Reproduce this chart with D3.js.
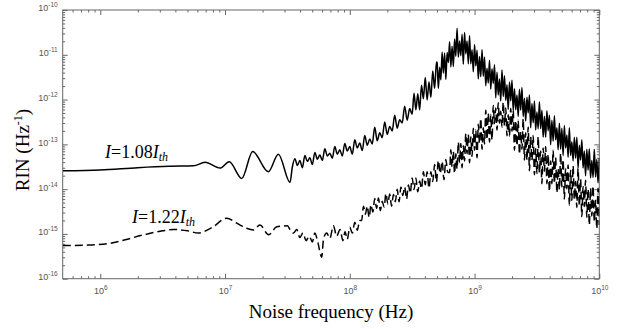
<!DOCTYPE html>
<html><head><meta charset="utf-8">
<script src="https://cdn.jsdelivr.net/npm/d3@7"></script>
<style>body{margin:0;background:#fff}</style>
</head><body><svg id="c" width="621" height="329"></svg>
<script>
// ---- data (log10 of frequency in Hz, log10 of RIN in 1/Hz) ----
const xDecades = [6, 7, 8, 9, 10];
const yDecades = [-16, -15, -14, -13, -12, -11, -10];
const xDomain = [5e5, 1e10];
const yDomain = [1e-16, 1e-10];
const xTitle = "Noise frequency (Hz)";
const yTitleMain = "RIN (Hz";
const yTitleSup = "-1";
const label108 = ["I", "=1.08", "I", "th"];
const label122 = ["I", "=1.22", "I", "th"];

const rin108 = [
[5.70,-13.59],[6.00,-13.57],[6.30,-13.52],[6.55,-13.49],[6.748,-13.48],[6.84,-13.40],[6.96,-13.53],[7.034,-13.39],[7.134,-13.76],[7.222,-13.16],[7.347,-13.61],[7.428,-13.22],[7.521,-13.85],
[7.54,-13.50],[7.56,-13.32],[7.58,-13.47],[7.60,-13.36],[7.62,-13.52],[7.64,-13.25],[7.66,-13.38],[7.68,-13.30],[7.70,-13.45],[7.72,-13.18],
[7.74,-13.33],[7.76,-13.24],[7.78,-13.36],[7.80,-13.10],[7.82,-13.26],[7.84,-13.20],[7.86,-13.31],[7.88,-13.05],[7.90,-13.22],[7.92,-13.12],
[7.94,-13.26],[7.96,-12.98],[7.98,-13.15],[8.00,-13.05],[8.02,-13.22],[8.04,-12.90],[8.06,-13.08],[8.08,-12.97],[8.10,-13.14],[8.12,-12.80],
[8.14,-13.02],[8.16,-12.88],[8.18,-12.99],[8.20,-12.62],[8.22,-12.92],[8.24,-12.74],[8.26,-12.85],[8.28,-12.50],[8.30,-12.78],[8.32,-12.60],
[8.34,-12.70],[8.36,-12.35],[8.38,-12.64],[8.40,-12.45],[8.42,-12.52],[8.44,-12.15],[8.46,-12.46],[8.48,-12.20],[8.50,-12.33],
[8.515,-11.86],[8.530,-12.23],[8.545,-11.87],[8.560,-12.23],[8.575,-11.68],[8.590,-11.98],[8.605,-11.51],[8.620,-12.01],[8.635,-11.61],[8.650,-11.95],
[8.665,-11.36],[8.680,-11.75],[8.695,-11.16],
[8.70,-11.18],[8.71,-11.75],[8.72,-11.28],[8.73,-11.56],[8.74,-10.94],[8.75,-11.41],[8.76,-10.96],[8.77,-11.55],[8.78,-10.95],[8.79,-11.17],
[8.80,-10.71],[8.81,-11.27],[8.82,-10.81],[8.83,-11.26],[8.84,-10.65],[8.85,-11.03],[8.86,-10.41],[8.87,-11.05],[8.88,-10.69],[8.89,-11.02],
[8.90,-10.54],[8.91,-11.21],[8.92,-10.50],[8.93,-10.98],[8.94,-10.69],[8.95,-11.20],[8.96,-10.57],[8.97,-11.20],[8.98,-10.89],[8.99,-11.38],
[9.00,-10.77],[9.01,-11.25],[9.02,-10.90],[9.03,-11.54],[9.04,-11.04],[9.05,-11.49],[9.06,-10.88],[9.07,-11.48],[9.08,-11.05],[9.09,-11.69],
[9.10,-11.30],[9.11,-11.63],[9.12,-11.12],[9.13,-11.77],[9.14,-11.31],[9.15,-11.64],[9.16,-11.22],[9.17,-11.96],[9.18,-11.39],[9.19,-11.90],
[9.20,-11.54],[9.21,-12.03],[9.22,-11.34],[9.23,-11.93],[9.24,-11.47],[9.25,-12.02],[9.26,-11.67],[9.27,-12.22],[9.28,-11.61],[9.29,-12.03],
[9.30,-11.57],[9.31,-12.24],[9.32,-11.76],[9.33,-12.23],[9.34,-11.90],[9.35,-12.38],[9.36,-11.77],[9.37,-12.24],[9.38,-11.73],[9.39,-12.38],
[9.40,-11.97],[9.41,-12.48],[9.42,-11.95],[9.43,-12.30],[9.44,-11.90],[9.45,-12.63],[9.46,-12.09],[9.47,-12.52],[9.48,-12.03],[9.49,-12.68],
[9.50,-12.28],[9.51,-12.65],[9.52,-12.05],[9.53,-12.65],[9.54,-12.24],[9.55,-12.84],[9.56,-12.37],[9.57,-12.84],[9.58,-12.25],[9.59,-12.70],
[9.60,-12.35],[9.61,-13.01],[9.62,-12.46],[9.63,-12.93],[9.64,-12.36],[9.65,-12.90],[9.66,-12.63],[9.67,-13.12],[9.68,-12.53],[9.69,-13.11],
[9.70,-12.64],[9.71,-13.25],[9.72,-12.58],[9.73,-13.08],[9.74,-12.79],[9.75,-13.29],[9.76,-12.63],[9.77,-13.25],[9.78,-12.94],[9.79,-13.37],
[9.80,-12.84],[9.81,-13.31],[9.82,-12.84],[9.83,-13.53],[9.84,-13.02],[9.85,-13.35],[9.86,-12.90],[9.87,-13.53],[9.88,-13.15],[9.89,-13.70],
[9.90,-13.11],[9.91,-13.58],[9.92,-13.10],[9.93,-13.75],[9.94,-13.36],[9.95,-13.74],[9.96,-13.11],[9.97,-13.73],[9.98,-13.34],[9.99,-13.86],
[10.00,-13.31]
];

const rin122 = [
[5.70,-15.26],[5.90,-15.25],[6.08,-15.21],[6.20,-15.13],[6.35,-15.02],[6.50,-14.93],[6.585,-14.90],[6.70,-14.93],[6.786,-14.98],[6.90,-14.85],
[7.014,-14.65],[7.094,-14.76],[7.17,-14.87],[7.227,-14.91],[7.28,-14.80],[7.35,-15.02],[7.415,-14.84],[7.50,-14.82],[7.525,-14.92],[7.55,-14.98],
[7.575,-14.90],[7.60,-15.08],[7.625,-14.98],[7.65,-15.15],[7.675,-15.05],[7.70,-15.18],[7.72,-14.98],[7.745,-15.20],[7.775,-15.52],[7.79,-15.10],
[7.816,-14.98],[7.84,-15.10],[7.869,-14.82],[7.895,-15.05],[7.922,-14.90],[7.945,-15.15],[7.962,-14.95],[7.98,-15.12],[8.00,-14.85],[8.02,-14.98],
[8.04,-14.74],[8.06,-14.92],[8.08,-14.70],
[8.095,-14.70],[8.110,-14.38],[8.125,-14.56],[8.140,-14.38],[8.155,-14.63],[8.170,-14.35],[8.185,-14.51],[8.200,-14.21],[8.215,-14.43],[8.230,-14.20],
[8.245,-14.48],[8.260,-14.27],[8.275,-14.40],[8.290,-14.10],[8.305,-14.33],[8.320,-14.11],[8.335,-14.38],[8.350,-14.12],[8.365,-14.28],[8.380,-14.00],
[8.395,-14.28],[8.410,-13.95],[8.425,-14.14],[8.440,-13.95],[8.455,-14.22],[8.470,-13.91],[8.485,-14.09],[8.500,-13.75],[8.515,-14.01],[8.530,-13.75],
[8.545,-14.06],[8.560,-13.82],[8.575,-13.99],[8.590,-13.61],[8.605,-13.90],[8.620,-13.61],[8.635,-13.98],[8.650,-13.61],[8.665,-13.83],[8.680,-13.45],
[8.695,-13.84],[8.710,-13.36],[8.725,-13.65],[8.740,-13.38],[8.755,-13.79],[8.770,-13.34],[8.785,-13.62],
[8.80,-13.63],[8.81,-13.12],[8.82,-13.50],[8.83,-13.16],[8.84,-13.65],[8.85,-13.21],[8.86,-13.55],[8.87,-12.95],[8.88,-13.41],[8.89,-12.98],
[8.90,-13.52],[8.91,-13.03],[8.92,-13.37],[8.93,-12.76],[8.94,-13.21],[8.95,-12.78],[8.96,-13.41],[8.97,-12.83],[8.98,-13.27],[8.99,-12.64],
[9.00,-13.13],[9.01,-12.68],[9.02,-13.30],[9.03,-12.55],[9.04,-12.98],[9.05,-12.42],[9.06,-13.11],[9.07,-12.63],[9.08,-12.99],[9.09,-12.24],
[9.10,-12.89],[9.11,-12.31],[9.12,-12.95],[9.13,-12.34],[9.14,-12.90],[9.15,-12.13],[9.16,-12.54],[9.17,-12.19],[9.18,-12.68],[9.19,-12.07],
[9.20,-12.53],[9.21,-12.26],[9.22,-12.62],[9.23,-12.06],[9.24,-12.58],[9.25,-12.19],[9.26,-12.81],[9.27,-12.34],[9.28,-12.82],[9.29,-12.20],
[9.30,-12.71],[9.31,-12.24],[9.32,-13.13],[9.33,-12.47],[9.34,-13.03],[9.35,-12.46],[9.36,-13.22],[9.37,-12.72],[9.38,-13.11],[9.39,-12.43],
[9.40,-13.35],[9.41,-12.74],[9.42,-13.35],[9.43,-12.61],[9.44,-13.59],[9.45,-12.83],[9.46,-13.36],[9.47,-12.80],[9.48,-13.68],[9.49,-13.09],
[9.50,-13.65],[9.51,-12.83],[9.52,-13.63],[9.53,-13.15],[9.54,-13.88],[9.55,-13.08],[9.56,-13.60],[9.57,-13.05],[9.58,-13.88],[9.59,-13.23],
[9.60,-14.05],[9.61,-13.37],[9.62,-13.88],[9.63,-13.13],[9.64,-13.87],[9.65,-13.29],[9.66,-14.08],[9.67,-13.54],[9.68,-14.01],[9.69,-13.20],
[9.70,-13.95],[9.71,-13.34],[9.72,-14.22],[9.73,-13.54],[9.74,-13.99],[9.75,-13.46],[9.76,-14.36],[9.77,-13.58],[9.78,-14.25],[9.79,-13.48],
[9.80,-14.23],[9.81,-13.83],[9.82,-14.41],[9.83,-13.54],[9.84,-14.37],[9.85,-13.78],[9.86,-14.61],[9.87,-13.94],[9.88,-14.39],[9.89,-13.80],
[9.90,-14.63],[9.91,-14.00],[9.92,-14.80],[9.93,-13.98],[9.94,-14.60],[9.95,-13.93],[9.96,-14.73],[9.97,-14.25],[9.98,-14.88],[9.99,-13.98],
[10.00,-14.80]
];

// ---- layout ----
const L = 62.7, R = 599.3, T = 10, B = 278.7;
const svg = d3.select("#c");
const x = d3.scaleLog().domain(xDomain).range([L, R]);
const y = d3.scaleLog().domain(yDomain).range([B, T]);
const axisColor = "#666";
const labelColor = "#555";
const sansFont = "'Liberation Sans', Arial, sans-serif";
const serifFont = "'Liberation Serif', 'Times New Roman', serif";

const xMajor = xDecades.map(d => Math.pow(10, d));
const yMajor = yDecades.map(d => Math.pow(10, d));
const xMinor = [];
for (let e = 5; e < 10; e++) for (let m = 2; m <= 9; m++) { const v = m * Math.pow(10, e); if (v > xDomain[0] && v < xDomain[1]) xMinor.push(v); }
const yMinor = [];
for (let e = -16; e < -10; e++) for (let m = 2; m <= 9; m++) yMinor.push(m * Math.pow(10, e));

function styleAxis(g) {
  g.select(".domain").remove();
  g.selectAll("line").attr("stroke", axisColor).attr("stroke-width", 1);
}
// bottom
svg.append("g").attr("transform", `translate(0,${B})`)
  .call(d3.axisBottom(x).tickValues(xMinor).tickSizeInner(-2.5).tickSizeOuter(0).tickFormat("")).call(styleAxis);
const xb = svg.append("g").attr("transform", `translate(0,${B})`)
  .call(d3.axisBottom(x).tickValues(xMajor).tickSizeInner(-5).tickSizeOuter(0).tickFormat("").tickPadding(9)).call(styleAxis);
xb.selectAll(".tick text").each(function(d, i) {
  const t = d3.select(this).attr("fill", labelColor).attr("font-family", sansFont).attr("font-size", 9)
    .attr("text-anchor", "middle").attr("dy", "0.71em");
  t.text(null);
  t.append("tspan").text("10");
  t.append("tspan").attr("dy", -4).attr("font-size", 6.5).text(String(xDecades[i]));
});
// top
svg.append("g").attr("transform", `translate(0,${T})`)
  .call(d3.axisTop(x).tickValues(xMinor).tickSizeInner(-2.5).tickSizeOuter(0).tickFormat("")).call(styleAxis);
svg.append("g").attr("transform", `translate(0,${T})`)
  .call(d3.axisTop(x).tickValues(xMajor).tickSizeInner(-5).tickSizeOuter(0).tickFormat("")).call(styleAxis);
// left
svg.append("g").attr("transform", `translate(${L},0)`)
  .call(d3.axisLeft(y).tickValues(yMinor).tickSizeInner(-2.5).tickSizeOuter(0).tickFormat("")).call(styleAxis);
const yl = svg.append("g").attr("transform", `translate(${L},0)`)
  .call(d3.axisLeft(y).tickValues(yMajor).tickSizeInner(-5).tickSizeOuter(0).tickFormat("").tickPadding(5)).call(styleAxis);
yl.selectAll(".tick text").each(function(d, i) {
  const t = d3.select(this).attr("fill", labelColor).attr("font-family", sansFont).attr("font-size", 9)
    .attr("text-anchor", "end").attr("dy", "0.1em");
  t.text(null);
  t.append("tspan").text("10");
  t.append("tspan").attr("dy", -4).attr("font-size", 6.5).text(String(yDecades[i]));
});
// right
svg.append("g").attr("transform", `translate(${R},0)`)
  .call(d3.axisRight(y).tickValues(yMinor).tickSizeInner(-2.5).tickSizeOuter(0).tickFormat("")).call(styleAxis);
svg.append("g").attr("transform", `translate(${R},0)`)
  .call(d3.axisRight(y).tickValues(yMajor).tickSizeInner(-5).tickSizeOuter(0).tickFormat("")).call(styleAxis);
// frame
svg.append("rect").attr("x", L).attr("y", T).attr("width", R - L).attr("height", B - T)
  .attr("fill", "none").attr("stroke", axisColor).attr("stroke-width", 1);

// ---- curves ----
svg.append("clipPath").attr("id", "pc").append("rect")
  .attr("x", L).attr("y", T).attr("width", R - L).attr("height", B - T);
const line = d3.line()
  .x(d => x(Math.pow(10, d[0])))
  .y(d => y(Math.pow(10, d[1])))
  .curve(d3.curveMonotoneX);
svg.append("path").datum(rin108).attr("d", line).attr("clip-path", "url(#pc)")
  .attr("fill", "none").attr("stroke", "#000").attr("stroke-width", 1.5).attr("stroke-linejoin", "round");
svg.append("path").datum(rin122).attr("d", line).attr("clip-path", "url(#pc)")
  .attr("fill", "none").attr("stroke", "#000").attr("stroke-width", 1.5).attr("stroke-dasharray", "8,4");

// ---- annotations ----
function curveLabel(parts, px, py) {
  const t = svg.append("text").attr("x", px).attr("y", py)
    .attr("font-family", serifFont).attr("font-size", 18).attr("fill", "#000");
  t.append("tspan").attr("font-style", "italic").text(parts[0]);
  t.append("tspan").text(parts[1]);
  t.append("tspan").attr("font-style", "italic").text(parts[2]);
  t.append("tspan").attr("font-style", "italic").attr("font-size", 12).attr("dy", 3).text(parts[3]);
}
curveLabel(label108, 105, 158);
curveLabel(label122, 132, 223);

svg.append("text").attr("x", (L + R) / 2).attr("y", 318).attr("text-anchor", "middle")
  .attr("font-family", serifFont).attr("font-size", 19).attr("fill", "#000").text(xTitle);
const yt = svg.append("text").attr("transform", `translate(29,150) rotate(-90)`)
  .attr("text-anchor", "middle").attr("font-family", serifFont).attr("font-size", 19).attr("fill", "#000");
yt.append("tspan").text(yTitleMain);
yt.append("tspan").attr("font-size", 12).attr("dy", -7).text(yTitleSup);
yt.append("tspan").attr("dy", 7).text(")");
</script></body></html>
